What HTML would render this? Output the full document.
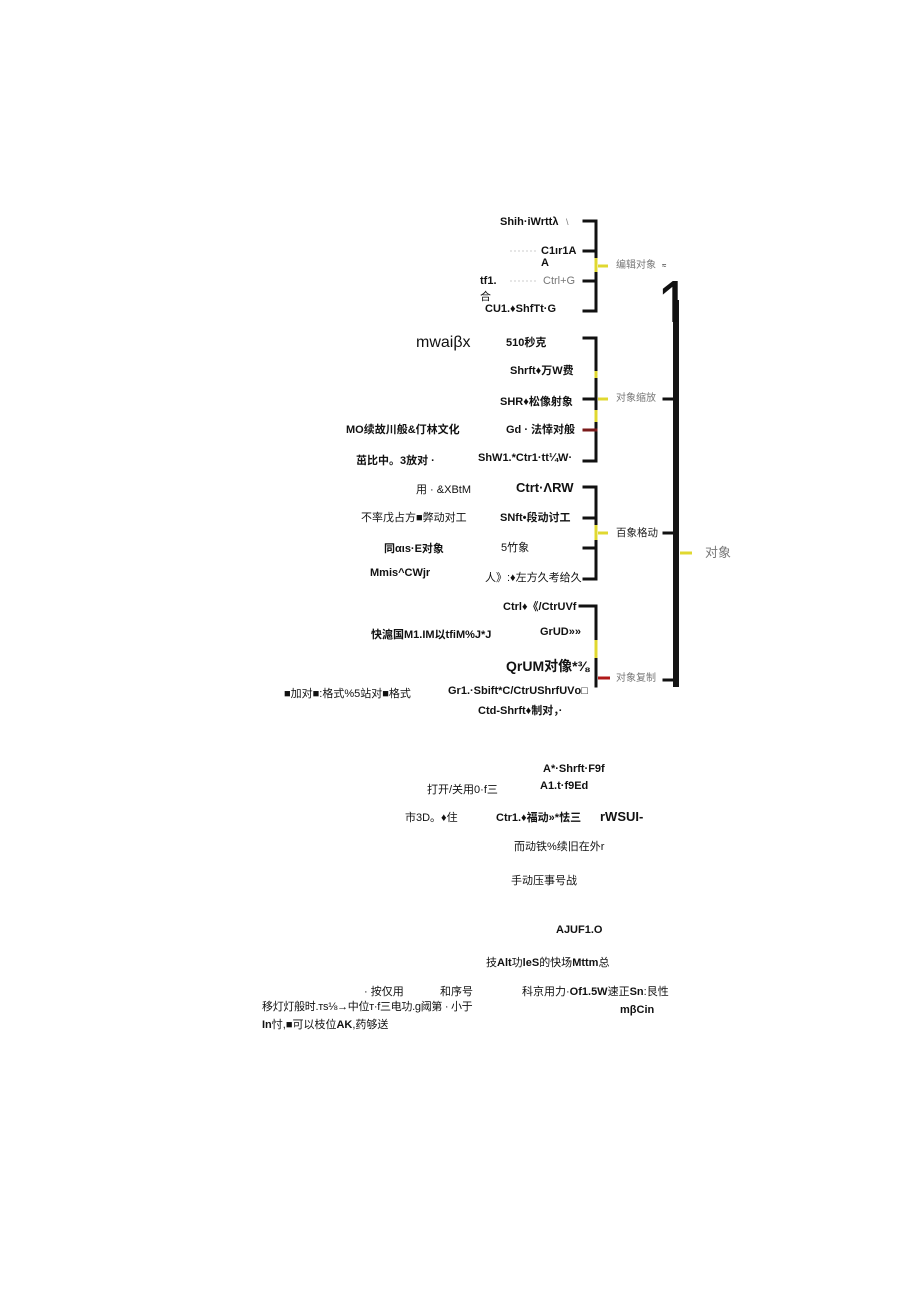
<!DOCTYPE html>
<html>
<head>
<meta charset="utf-8">
<style>
html,body{margin:0;padding:0;background:#fff;}
body{width:920px;height:1301px;position:relative;overflow:hidden;font-family:"Liberation Sans","Noto Sans CJK SC",sans-serif;color:#111;}
.t{position:absolute;white-space:nowrap;font-size:11px;line-height:12px;}
.b{font-weight:bold;}
.g{color:#777;}
svg{position:absolute;left:0;top:0;}
</style>
</head>
<body>
<svg width="920" height="1301" viewBox="0 0 920 1301">
  <g stroke="#111" stroke-width="3" fill="none" stroke-linecap="square">
    <polyline points="584,221 596,221 596,311 584,311"/>
    <line x1="584" y1="251" x2="596" y2="251"/>
    <line x1="584" y1="281" x2="596" y2="281"/>
    <polyline points="584,338 596,338 596,461 584,461"/>
    <line x1="584" y1="399" x2="596" y2="399"/>
    <line x1="584" y1="430" x2="596" y2="430" stroke="#7a1a1a"/>
    <polyline points="584,487 596,487 596,579 584,579"/>
    <line x1="584" y1="518" x2="596" y2="518"/>
    <line x1="584" y1="548" x2="596" y2="548"/>
    <polyline points="580,606 596,606 596,686"/>
    <line x1="664" y1="399" x2="676" y2="399"/>
    <line x1="664" y1="533" x2="676" y2="533"/>
    <line x1="664" y1="680" x2="676" y2="680"/>
  </g>
  <g stroke="#e0d830" stroke-width="3">
    <line x1="596" y1="258" x2="596" y2="272"/>
    <line x1="598" y1="266" x2="608" y2="266"/>
    <line x1="598" y1="399" x2="608" y2="399"/>
    <line x1="596" y1="371" x2="596" y2="378"/>
    <line x1="596" y1="410" x2="596" y2="422"/>
    <line x1="598" y1="533" x2="608" y2="533"/>
    <line x1="596" y1="525" x2="596" y2="540"/>
    <line x1="596" y1="640" x2="596" y2="658"/>
    <line x1="680" y1="553" x2="692" y2="553"/>
  </g>
  <line x1="598" y1="678" x2="610" y2="678" stroke="#b01818" stroke-width="3"/>
  <rect x="673" y="300" width="6" height="387" fill="#151515"/>
  <g stroke="#ccc" stroke-width="1" stroke-dasharray="2,2">
    <line x1="510" y1="251" x2="538" y2="251"/>
    <line x1="510" y1="281" x2="538" y2="281"/>
  </g>
</svg>

<div style="position:absolute;left:650px;top:270px;width:50px;height:52px;overflow:hidden;">
  <div class="t" style="left:6.5px;top:0;font-size:70px;line-height:70px;font-weight:normal;transform:scaleX(0.87);transform-origin:0 0;">1</div>
</div>

<div class="t b" style="left:500px;top:216px;">Shih·iWrttλ</div>
<div class="t g" style="left:566px;top:216px;font-size:9px;">\</div>
<div class="t b" style="left:541px;top:245px;">C1ır1A</div>
<div class="t b" style="left:541px;top:257px;">A</div>
<div class="t b" style="left:480px;top:275px;">tf1.</div>
<div class="t" style="left:480px;top:291px;">合</div>
<div class="t g" style="left:543px;top:275px;">Ctrl+G</div>
<div class="t b" style="left:485px;top:303px;">CU1.♦ShfTt·G</div>
<div class="t g" style="left:616px;top:260px;font-size:10px;">编辑对象</div>
<div class="t" style="left:662px;top:260px;font-size:8px;">≈</div>

<div class="t" style="left:416px;top:334px;font-size:16px;line-height:18px;">mwaiβx</div>
<div class="t b" style="left:506px;top:337px;">510秒克</div>
<div class="t b" style="left:510px;top:365px;">Shrft♦万W费</div>
<div class="t b" style="left:500px;top:396px;">SHR♦松像射象</div>
<div class="t b" style="left:346px;top:424px;">MO续故川般&amp;仃林文化</div>
<div class="t b" style="left:506px;top:424px;">Gd · 法悻对般</div>
<div class="t b" style="left:356px;top:455px;">茁比中。3放对 ·</div>
<div class="t b" style="left:478px;top:452px;">ShW1.*Ctr1·tt¼W·</div>
<div class="t g" style="left:616px;top:393px;font-size:10px;">对象缩放</div>

<div class="t" style="left:416px;top:484px;">用 · &amp;XBtM</div>
<div class="t b" style="left:516px;top:481px;font-size:13px;line-height:14px;">Ctrt·ΛRW</div>
<div class="t" style="left:361px;top:512px;">不率戊占方■弊动对工</div>
<div class="t b" style="left:500px;top:512px;">SNft•段动讨工</div>
<div class="t b" style="left:384px;top:543px;">同αιs·E对象</div>
<div class="t" style="left:501px;top:542px;">5竹象</div>
<div class="t b" style="left:370px;top:567px;">Mmis^CWjr</div>
<div class="t" style="left:485px;top:572px;">人》:♦左方久考给久</div>
<div class="t" style="left:616px;top:527px;font-size:10.5px;color:#222;">百象格动</div>
<div class="t g" style="left:705px;top:546px;font-size:13px;line-height:14px;">对象</div>

<div class="t b" style="left:503px;top:601px;">Ctrl♦《/CtrUVf</div>
<div class="t b" style="left:371px;top:629px;">快滬国M1.IM以tfiM%J*J</div>
<div class="t b" style="left:540px;top:626px;">GrUD»»</div>
<div class="t b" style="left:506px;top:658px;font-size:14px;line-height:16px;">QrUM对像*⅜</div>
<div class="t" style="left:284px;top:688px;">■加对■:格式%5站对■格式</div>
<div class="t b" style="left:448px;top:685px;">Gr1.·Sbift*C/CtrUShrfUVο□</div>
<div class="t b" style="left:478px;top:705px;">Ctd-Shrft♦制对，·</div>
<div class="t g" style="left:616px;top:673px;font-size:10px;">对象复制</div>

<div class="t b" style="left:543px;top:763px;">A*·Shrft·F9f</div>
<div class="t" style="left:427px;top:784px;">打开/关用0·f三</div>
<div class="t b" style="left:540px;top:780px;">A1.t·f9Ed</div>
<div class="t" style="left:405px;top:812px;">市3D。♦住</div>
<div class="t b" style="left:496px;top:812px;">Ctr1.♦福动»*怯三</div>
<div class="t b" style="left:600px;top:810px;font-size:13px;line-height:14px;">rWSUI-</div>
<div class="t" style="left:514px;top:841px;">而动铁%续旧在外r</div>
<div class="t" style="left:511px;top:875px;">手动压事号战</div>

<div class="t b" style="left:556px;top:924px;">AJUF1.O</div>
<div class="t" style="left:486px;top:957px;">技<b>Alt</b>功<b>leS</b>的快场<b>Mttm</b>总</div>
<div class="t" style="left:364px;top:986px;">· 按仅用</div>
<div class="t" style="left:440px;top:986px;">和序号</div>
<div class="t" style="left:522px;top:986px;">科京用力·<b>Of1.5W</b>速正<b>Sn</b>:艮性</div>
<div class="t" style="left:262px;top:1001px;letter-spacing:-0.3px;">移灯灯般时.ᴛs⅛→中位ᴛ·f三电功.g阈第 · 小于</div>
<div class="t b" style="left:620px;top:1004px;">mβCin</div>
<div class="t" style="left:262px;top:1019px;"><b>In</b>忖,■可以枝位<b>AK</b>,药够送</div>
</body>
</html>
